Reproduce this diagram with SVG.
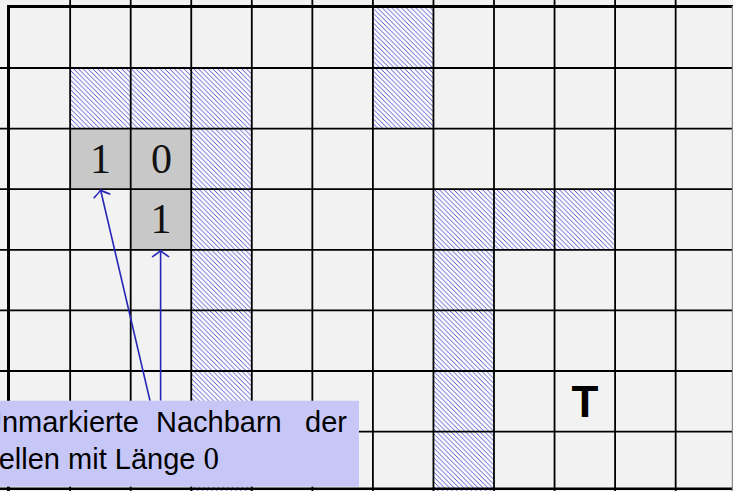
<svg xmlns="http://www.w3.org/2000/svg" width="733" height="491" viewBox="0 0 733 491">
<defs>
<pattern id="hatch" patternUnits="userSpaceOnUse" width="4.8" height="4.8">
<rect width="4.8" height="4.8" fill="#fbfbfd"/>
<path d="M0,0 L4.8,4.8 M-1,3.8 L1,5.8 M3.8,-1 L5.8,1" stroke="#3c3cc8" stroke-width="0.85" fill="none"/>
</pattern>
<marker id="to" markerUnits="userSpaceOnUse" markerWidth="20" markerHeight="20" refX="0" refY="0" viewBox="-10 -10 20 20" orient="auto" overflow="visible">
<path d="M-6,-8 C-3,-3.5 -1,-0.8 0,0 C-1,0.8 -3,3.5 -6,8" fill="none" stroke="#2626b8" stroke-width="1.6" stroke-linecap="round"/>
</marker>
</defs>
<style>
.h{fill:url(#hatch)}
.g{fill:#c8c8c8}
.gl{stroke:#000;stroke-width:1.8;fill:none}
.fr{stroke:#000;stroke-width:3;fill:none}
.num{font-family:"Liberation Serif","DejaVu Serif",serif;font-size:42px;fill:#111;text-anchor:middle}
.lbl{font-family:"Liberation Sans",Arial,sans-serif;font-size:29px;fill:#000}
.arr{stroke:#2626b8;stroke-width:1.6;fill:none;marker-end:url(#to)}
</style>
<rect width="733" height="491" fill="#f2f2f2"/>
<g id="hatched-cells">
<rect class="h" x="372.9" y="7.4" width="60.55" height="60.6"/>
<rect class="h" x="70.15" y="68" width="181.65" height="60.6"/>
<rect class="h" x="372.9" y="68" width="60.55" height="60.6"/>
<rect class="h" x="191.25" y="128.6" width="60.55" height="363"/>
<rect class="h" x="433.45" y="189.2" width="181.65" height="60.6"/>
<rect class="h" x="433.45" y="249.8" width="60.55" height="242"/>
</g>
<g id="marked-cells">
<rect class="g" x="70.15" y="128.6" width="121.1" height="60.6"/>
<rect class="g" x="130.7" y="189.2" width="60.55" height="60.6"/>
</g>
<g id="grid">
<path class="gl" d="M70.15,0V491 M130.7,0V491 M191.25,0V491 M251.8,0V491 M312.35,0V491 M372.9,0V491 M433.45,0V491 M494,0V491 M554.55,0V491 M615.1,0V491 M675.65,0V491"/>
<path class="gl" d="M0,68H733 M0,128.6H733 M0,189.2H733 M0,249.8H733 M0,310.4H733 M0,371H733 M0,431.6H733"/>
<path class="fr" d="M8.5,491V6.5H733"/>
<path d="M0,488.8H733" stroke="#000" stroke-width="2.6"/>
<rect x="731.8" y="6" width="1.2" height="485" fill="#8a8a8a"/>
</g>
<g id="cell-1a"><text class="num" x="100.5" y="173">1</text></g>
<g id="cell-0"><text class="num" x="161.5" y="173">0</text></g>
<g id="cell-1b"><text class="num" x="161" y="233">1</text></g>
<g id="target"><text x="585" y="417" font-family="Liberation Sans,Arial,sans-serif" font-weight="bold" font-size="44" text-anchor="middle">T</text></g>
<g id="connectors">
<path class="arr" d="M150,400.7 L100.6,190"/>
<path class="arr" d="M160.6,400.7 L160.6,250.6"/>
</g>
<g id="callout">
<rect x="-2" y="400.7" width="361" height="86" fill="#c7c7f7"/>
<text class="lbl" y="432"><tspan x="-19">Unmarkierte</tspan><tspan x="156">Nachbarn</tspan><tspan x="305">der</tspan></text>
<text class="lbl" x="-19" y="469">Zellen mit Länge <tspan font-family="Liberation Serif,DejaVu Serif,serif" font-size="31">0</tspan></text>
</g>
</svg>
